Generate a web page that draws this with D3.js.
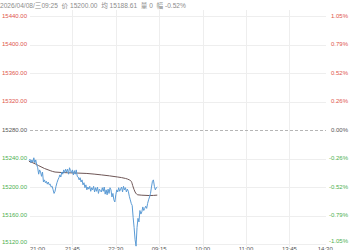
<!DOCTYPE html>
<html><head><meta charset="utf-8">
<script src="https://cdn.jsdelivr.net/npm/d3@7"></script>
<style>
html,body{margin:0;padding:0;background:#fff;overflow:hidden;}
svg{display:block;font-family:"Liberation Sans",Arial,"Noto Sans CJK SC",sans-serif;}
</style></head>
<body>
<svg id="c" width="350" height="250"></svg>
<script>
const headerText = "2026/04/08/三09:25  价 15200.00  均 15188.61  量 0  幅 -0.52%";
const prevClose = 15280;
const yTicks = [15440,15400,15360,15320,15280,15240,15200,15160,15120];
const pctLabels = ["1.05%","0.79%","0.52%","0.26%","0.00%","-0.26%","-0.52%","-0.79%","-1.05%"];
const timeLabels = ["21:00","21:45","22:30","09:15","10:00","11:00","13:45","14:30"];
const timeTickMinutes = [0,45,90,135,180,225,270,315];
// price, one value per trading minute from 21:00
const price = [15237,15239,15234,15238,15235,15241,15234,15238,15231,15227,
15218,15224,15221,15215,15221,15207,15210,15206,15208,15204,
15207,15203,15204,15200,15201,15196,15191,15194,15201,15206,
15210,15213,15217,15214,15221,15218,15224,15220,15225,15221,
15225,15218,15227,15223,15220,15224,15217,15223,15218,15224,
15215,15214,15210,15213,15207,15210,15203,15206,15199,15203,
15196,15200,15197,15201,15194,15199,15196,15201,15193,15199,
15194,15200,15191,15197,15195,15193,15199,15194,15200,15190,
15196,15189,15197,15191,15199,15196,15186,15191,15182,15179,
15189,15196,15193,15199,15194,15197,15200,15193,15201,15196,
15199,15193,15197,15194,15187,15182,15177,15174,15157,15143,
15126,15117,15143,15156,15151,15167,15162,15165,15172,15167,
15170,15173,15170,15177,15182,15186,15191,15200,15208,15210,
15201,15196,15199,15200];
const avgMinutes = [0,4,10,16,22,27,40,60,75,92,100,104,106,108,110,113,117,125,133];
const avgValues = [15236,15234,15230,15226,15223,15221,15220,15219,15217,15214,15212,15210,15208,15200,15193,15189,15188.5,15188,15188.61];

const svg = d3.select("#c");
const x = d3.scaleLinear().domain([0,315]).range([29,332.8]);
const y = d3.scaleLinear().domain([15120,15440]).range([244,16]);
const gridRight = 326;

// vertical grid
svg.append("g").selectAll("line").data(timeTickMinutes.slice(1,-1)).join("line")
  .attr("x1",d=>Math.round(x(d))+0.5).attr("x2",d=>Math.round(x(d))+0.5)
  .attr("y1",10).attr("y2",247).attr("stroke","#eeeeee").attr("stroke-width",1);

// horizontal grid
svg.append("g").selectAll("line").data(yTicks).join("line")
  .attr("x1",30).attr("x2",gridRight)
  .attr("y1",d=>Math.round(y(d))+0.5).attr("y2",d=>Math.round(y(d))+0.5)
  .attr("stroke",d=>d===prevClose?"#b5b5b5":"#eeeeee")
  .attr("stroke-dasharray",d=>d===prevClose?"3,2":null)
  .attr("stroke-width",1);

const col = d=> d>prevClose?"#e0554c":(d<prevClose?"#4caf50":"#555555");

// left labels
svg.append("g").selectAll("text").data(yTicks).join("text")
  .attr("x",2).attr("y",(d,i)=>y(d)+(i===yTicks.length-1?-1.5:0))
  .attr("dominant-baseline","middle").attr("font-size",6)
  .attr("fill",col).text(d=>d.toFixed(2));

// right labels
svg.append("g").selectAll("text").data(yTicks).join("text")
  .attr("x",348).attr("y",(d,i)=>y(d)+(i===yTicks.length-1?-3:0))
  .attr("text-anchor","end")
  .attr("dominant-baseline","middle").attr("font-size",6)
  .attr("fill",col).text((d,i)=>pctLabels[i]);

// time labels
svg.append("g").selectAll("text").data(timeTickMinutes).join("text")
  .attr("x",d=>x(d)+(d===0?1:0))
  .attr("y",250.5)
  .attr("text-anchor",(d,i)=>i===0?"start":(i===timeTickMinutes.length-1?"end":"middle"))
  .attr("font-size",6).attr("fill","#555").text((d,i)=>timeLabels[i]);

// header
svg.append("text").attr("x",0).attr("y",7.5).attr("font-size",6.6).attr("fill","#8c8c8c")
  .attr("xml:space","preserve").style("white-space","pre").text(headerText);

// average line
svg.append("path").datum(avgMinutes.map((m,i)=>[m,avgValues[i]]))
  .attr("fill","none").attr("stroke","#6e5656").attr("stroke-width",1)
  .attr("d",d3.line().x(d=>x(d[0])).y(d=>y(d[1])).curve(d3.curveMonotoneX));

// price line
svg.append("path").datum(price)
  .attr("fill","none").attr("stroke","#5b9bd5").attr("stroke-width",1)
  .attr("stroke-linejoin","round")
  .attr("d",d3.line().x((d,i)=>x(i)).y(d=>y(d)));
</script>
</body></html>
